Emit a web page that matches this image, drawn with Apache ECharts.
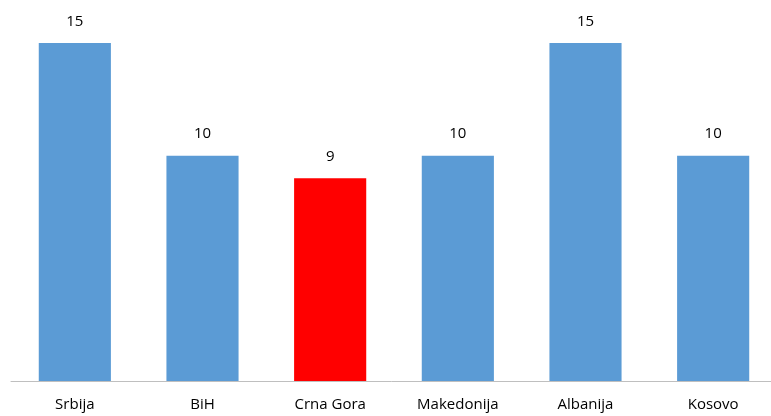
<!DOCTYPE html>
<html>
<head>
<meta charset="utf-8">
<script src="https://cdn.jsdelivr.net/npm/echarts@6/dist/echarts.min.js"></script>
<style>
  html, body { margin: 0; padding: 0; background: #fff; }
  #chart { width: 771px; height: 416px; }
</style>
</head>
<body>
<div id="chart"></div>
<script>
// podaci
const countries = ['Srbija', 'BiH', 'Crna Gora', 'Makedonija', 'Albanija', 'Kosovo']
const values = [15, 10, 9, 10, 15, 10]
const highlighted = 'Crna Gora'

const chart = echarts.init(document.getElementById('chart'))

chart.setOption({
  animation: false,
  grid: {
    left: 11,
    top: 43,
    right: -6,
    bottom: 35,
    containLabel: false,
    outerBoundsMode: 'none'
  },
  xAxis: {
    type: 'category',
    data: countries,
    axisLine: { lineStyle: { color: '#bfbfbf', width: 1 } },
    axisTick: { show: false },
    axisLabel: {
      color: '#000',
      fontFamily: 'Open Sans',
      fontSize: 15,
      margin: 16
    }
  },
  yAxis: {
    type: 'value',
    min: 0,
    max: 15,
    show: false
  },
  series: [
    {
      type: 'bar',
      barWidth: '56.5%',
      data: values.map((v, i) => ({
        value: v,
        itemStyle: { color: countries[i] === highlighted ? '#ff0000' : '#5b9bd5' }
      })),
      label: {
        show: true,
        position: 'top',
        distance: 14,
        color: '#000',
        fontFamily: 'Open Sans',
        fontSize: 15
      }
    }
  ]
})
</script>
</body>
</html>
